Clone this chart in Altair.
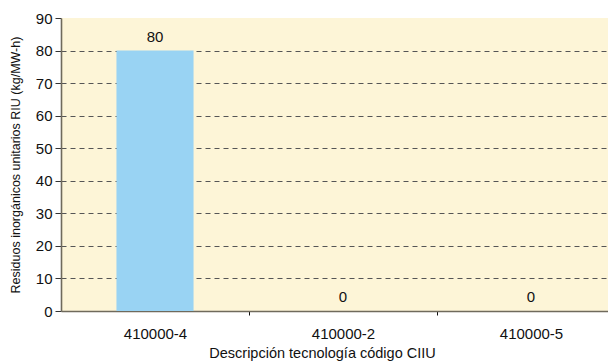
import altair as alt
import pandas as pd

categories = ["410000-4", "410000-2", "410000-5"]
values = [80, 0, 0]
y_ticks = [0, 10, 20, 30, 40, 50, 60, 70, 80, 90]

x_title = "Descripción tecnología código CIIU"
y_title = "Residuos inorgánicos unitarios RIU (kg/MW-h)"

half_bar = 0.205
df = pd.DataFrame({
    "cat": categories,
    "value": values,
    "pos": [i + 0.5 for i in range(len(categories))],
})
df["x0"] = df["pos"] - half_bar
df["x1"] = df["pos"] + half_bar

FONT = "Liberation Sans, Arial, sans-serif"
PLOT_W = 547
x_domain = [0, PLOT_W / 188]
x_axis_values = [0.5, 1, 1.5, 2, 2.5]
label_list = "[" + ",".join("'" + c + "'" for c in categories) + "]"

xscale = alt.Scale(domain=x_domain, nice=False, zero=False)
yscale = alt.Scale(domain=[0, 90], nice=False)

x_axis = alt.Axis(
    values=x_axis_values,
    title=x_title,
    titleFont=FONT, titleFontSize=14.5, titleFontWeight="normal", titleColor="#111",
    titleX=261, titleY=42, titleBaseline="middle", titleAnchor="start", titleAlign="center",
    labelExpr=f"datum.value % 1 == 0 ? '' : {label_list}[floor(datum.value)]",
    labelFont=FONT, labelFontSize=15, labelColor="#111", labelPadding=11,
    labelOverlap=False, labelFlush=False,
    tickSize=4, tickColor="#111", tickWidth=1,
    tickOpacity=alt.condition("datum.value % 1 == 0", alt.value(1), alt.value(0)),
    domainColor="#6f6a5c", domainWidth=1.6,
    grid=False,
)

y_axis = alt.Axis(
    values=y_ticks,
    title=y_title,
    titleFont=FONT, titleFontSize=12.5, titleFontWeight="normal", titleColor="#111",
    titlePadding=13,
    labelFont=FONT, labelFontSize=15, labelColor="#111", labelPadding=3,
    labelOverlap=False, labelFlush=False,
    tickSize=6, tickColor="#333", tickWidth=1,
    domainColor="#6f6a5c", domainWidth=1.6,
    grid=True, gridColor="#555555", gridDash=[5, 4], gridWidth=1,
    gridOpacity=alt.condition("datum.value >= 90 || datum.value <= 0", alt.value(0), alt.value(1)),
)

bars = alt.Chart(df).mark_bar(color="#99d3f3").encode(
    x=alt.X("x0:Q", scale=xscale, axis=x_axis),
    x2="x1:Q",
    y=alt.Y("value:Q", scale=yscale, axis=y_axis),
    y2=alt.datum(0),
)

labels = alt.Chart(df).mark_text(
    font=FONT, fontSize=15, color="#111", baseline="middle", dy=-14
).encode(
    x=alt.X("pos:Q", scale=xscale, axis=x_axis),
    y=alt.Y("value:Q", scale=yscale, axis=y_axis),
    text="value:Q",
)

chart = alt.layer(bars, labels).properties(
    width=PLOT_W, height=293,
    autosize=alt.AutoSizeParams(type="none"),
    padding={"left": 53, "top": 10, "right": 0, "bottom": 51},
    background="white",
).configure_view(fill="#fdf5d7", stroke=None)

chart.save("out.html", embed_options={"renderer": "svg", "actions": False})
